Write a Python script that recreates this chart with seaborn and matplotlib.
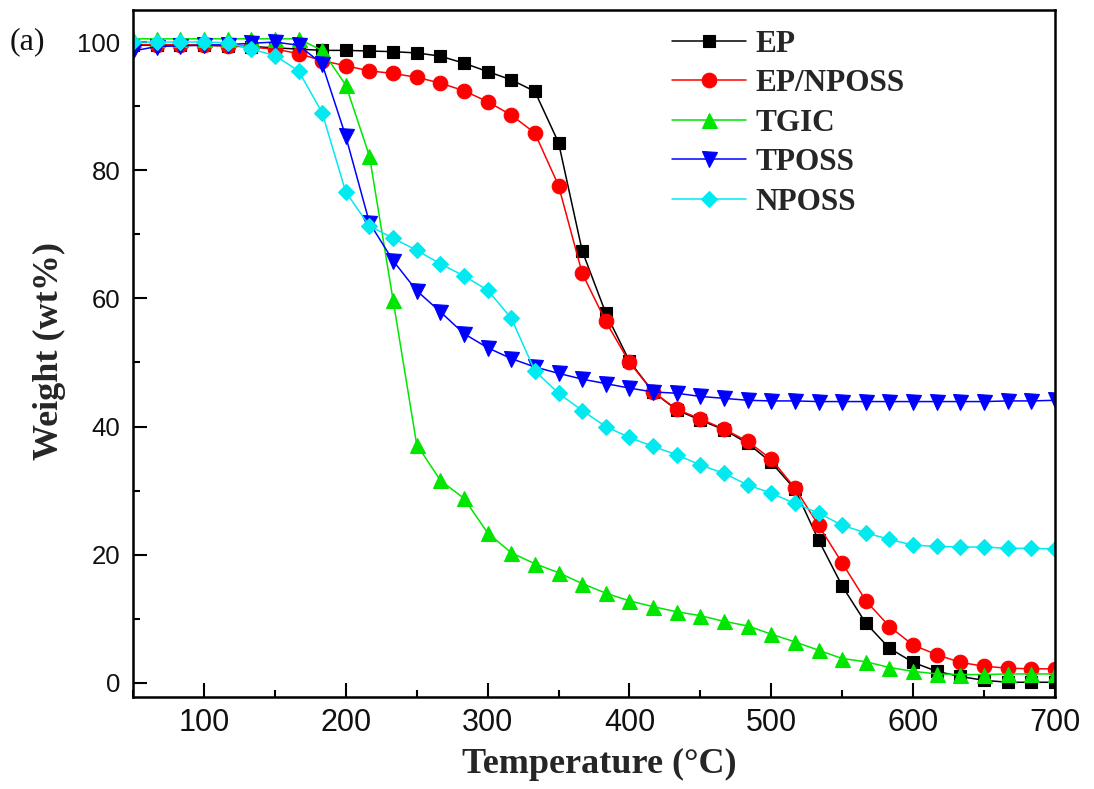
import matplotlib
matplotlib.use("Agg")
import matplotlib.pyplot as plt
from matplotlib.ticker import MultipleLocator
from matplotlib.font_manager import FontProperties
import seaborn as sns

# Sampling temperatures (°C) shared by all TGA curves
temperature = [50.0, 66.7, 83.3, 100.0, 116.7, 133.3, 150.0, 166.7, 183.3, 200.0,
               216.7, 233.3, 250.0, 266.7, 283.3, 300.0, 316.7, 333.3, 350.0, 366.7,
               383.3, 400.0, 416.7, 433.3, 450.0, 466.7, 483.3, 500.0, 516.7, 533.3,
               550.0, 566.7, 583.3, 600.0, 616.7, 633.3, 650.0, 666.7, 683.3, 700.0]

# Residual weight (wt%)
ep = [99.5, 99.5, 99.5, 99.5, 99.4, 99.3, 99.1, 98.9, 98.7, 98.7,
      98.6, 98.5, 98.3, 97.8, 96.7, 95.4, 94.1, 92.3, 84.3, 67.4,
      57.7, 50.2, 45.4, 42.6, 41.0, 39.5, 37.4, 34.4, 30.2, 22.3,
      15.1, 9.3, 5.4, 3.2, 1.8, 1.0, 0.4, 0.1, 0.1, 0.1]

ep_nposs = [99.6, 99.6, 99.6, 99.5, 99.4, 99.2, 98.9, 98.2, 97.1, 96.3,
            95.5, 95.1, 94.5, 93.6, 92.4, 90.7, 88.6, 85.8, 77.6, 63.9,
            56.4, 50.0, 45.4, 42.7, 41.2, 39.6, 37.7, 34.9, 30.4, 24.6,
            18.7, 12.8, 8.8, 5.9, 4.4, 3.2, 2.6, 2.3, 2.2, 2.2]

tgic = [100.5, 100.5, 100.5, 100.5, 100.5, 100.5, 100.5, 100.5, 98.7, 93.3,
        82.2, 59.8, 37.2, 31.6, 28.8, 23.4, 20.3, 18.6, 17.2, 15.5,
        14.0, 12.8, 11.9, 11.1, 10.5, 9.6, 8.9, 7.6, 6.4, 5.1,
        3.8, 3.3, 2.4, 1.8, 1.4, 1.3, 1.3, 1.4, 1.4, 1.4]

tposs = [98.6, 99.3, 99.4, 99.5, 99.6, 99.8, 100.0, 99.5, 96.6, 85.3,
         71.8, 65.9, 61.2, 57.9, 54.5, 52.3, 50.6, 49.3, 48.3, 47.4,
         46.7, 46.0, 45.4, 45.2, 44.7, 44.4, 44.1, 44.0, 44.0, 43.9,
         43.9, 43.9, 43.9, 43.9, 43.9, 43.9, 43.9, 44.0, 44.0, 44.1]

nposs = [100.0, 100.0, 100.0, 100.0, 99.9, 98.9, 97.9, 95.5, 89.0, 76.6,
         71.3, 69.4, 67.5, 65.4, 63.5, 61.3, 56.9, 48.7, 45.2, 42.5,
         40.0, 38.3, 36.9, 35.6, 34.0, 32.7, 30.9, 29.6, 28.0, 26.5,
         24.6, 23.4, 22.4, 21.5, 21.3, 21.2, 21.2, 21.0, 21.0, 20.9]

series_names = ["EP", "EP/NPOSS", "TGIC", "TPOSS", "NPOSS"]
series_values = [ep, ep_nposs, tgic, tposs, nposs]
series_colors = ["#000000", "#ff0000", "#00e600", "#0000ff", "#00eaf0"]
series_markers = ["s", "o", "^", "v", "D"]
series_sizes = [8.5, 10.5, 10.8, 10.8, 8.0]

sns.set_theme(style="ticks")
plt.rcParams["font.family"] = ["Liberation Sans", "DejaVu Sans"]
label_font = FontProperties(family="Liberation Serif", weight="bold", size=26)

fig = plt.figure(figsize=(10.94, 7.89), dpi=100)
ax = fig.add_axes([133 / 1094, 1 - 697 / 789, (1055 - 133) / 1094, (697 - 10) / 789])

for name, vals, col, mk, ms in zip(series_names, series_values, series_colors,
                                   series_markers, series_sizes):
    sns.lineplot(x=temperature, y=vals, ax=ax, color=col, marker=mk, markersize=ms,
                 markeredgecolor=col, markeredgewidth=0.8, linewidth=1.1,
                 label=name, estimator=None, sort=False)

ax.set_xlim(50, 700)
ax.set_ylim(-2.2, 105)
ax.xaxis.set_major_locator(MultipleLocator(100))
ax.xaxis.set_minor_locator(MultipleLocator(50))
ax.yaxis.set_major_locator(MultipleLocator(20))
ax.yaxis.set_minor_locator(MultipleLocator(10))
ax.tick_params(which="both", direction="in", top=False, right=False, color="black",
               labelcolor="#111111")
ax.tick_params(which="major", length=10, width=1.5)
ax.tick_params(which="minor", length=5, width=1.5)
ax.tick_params(axis="x", which="major", pad=8, labelsize=22)
ax.tick_params(axis="y", which="major", pad=9, labelsize=18.5)
for sp in ax.spines.values():
    sp.set_visible(True)
    sp.set_linewidth(1.8)
    sp.set_color("black")

ax.set_xlabel("Temperature (°C)", fontproperties=label_font)
ax.set_ylabel("Weight (wt%)", fontproperties=label_font)
ax.xaxis.set_label_coords(0.506, -0.074)
ax.yaxis.set_label_coords(-0.0727, 0.503)

ax.legend(loc="upper left", bbox_to_anchor=(0.585, 0.9716), frameon=False,
          prop=FontProperties(family="Liberation Serif", weight="bold", size=22.5),
          handlelength=2.37, handletextpad=0.29, labelspacing=0.34,
          borderpad=0, borderaxespad=0)

fig.text(10 / 1094, 1 - 42 / 789, "(a)", fontsize=23, va="center", ha="left",
         family="Liberation Serif", color="#111111")

fig.savefig("out.png", dpi=100, facecolor="white")
